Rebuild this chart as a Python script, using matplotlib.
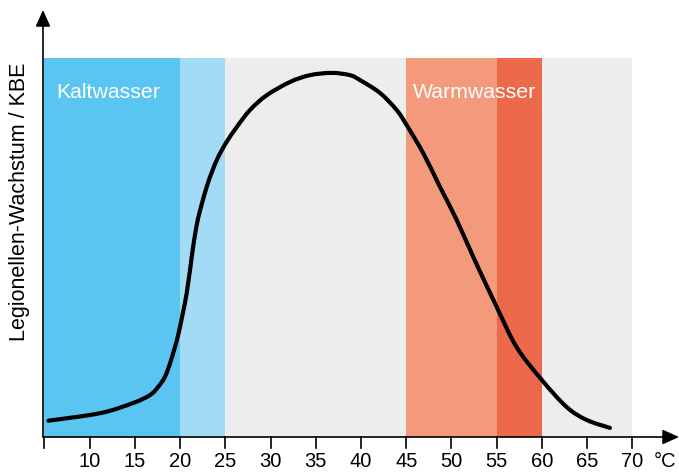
import matplotlib
matplotlib.use("Agg")
import matplotlib.pyplot as plt
from matplotlib.path import Path
from matplotlib.patches import PathPatch

plt.rcParams['font.family'] = ['Liberation Sans', 'DejaVu Sans']

# Temperature zones (°C) and colours
band_edges = [5, 20, 25, 45, 55, 60, 70]
band_colors = ["#5BC5F2", "#A3DAF6", "#EDEDED", "#F29A7B", "#EC694C", "#EDEDED"]

# Growth curve (relative units, 0..100)
temp = [5.45, 11.2, 14.84, 16.69, 17.60, 18.34, 18.90, 19.45, 19.92, 20.74,
        21.35, 21.85, 22.35, 22.95, 23.50, 24.23, 25.16, 26.27, 27.73, 29.58,
        32.15, 34.36, 36.76, 38.78, 39.89, 42.1, 43.94, 45.05, 46.88, 48.73,
        50.57, 52.41, 55.0, 57.2, 60.0, 62.73, 64.94, 67.51]
growth = [4.3, 6.3, 9.0, 11.08, 13.27, 15.91, 19.45, 23.83, 28.23, 38.0,
          48.5, 56.0, 61.0, 66.0, 69.8, 73.96, 77.92, 81.8, 86.3, 90.2,
          93.7, 95.5, 96.1, 95.5, 94.2, 90.8, 86.3, 82.3, 74.9, 66.0,
          57.3, 47.5, 34.3, 23.7, 15.0, 7.9, 4.5, 2.4]

tick_values = [10, 15, 20, 25, 30, 35, 40, 45, 50, 55, 60, 65, 70]

W, H = 679, 474
fig = plt.figure(figsize=(W / 100, H / 100), dpi=100)
ax = fig.add_axes([43 / W, (H - 437) / H, (679 - 43) / W, (437 - 10) / H])
ax.set_xlim(4.86, 75.14)
ax.set_ylim(0, 112.7)
for s in ax.spines.values():
    s.set_visible(False)
ax.set_xticks([])
ax.set_yticks([])
ax.patch.set_alpha(0)

for i, c in enumerate(band_colors):
    ax.axvspan(band_edges[i], band_edges[i + 1], ymin=0, ymax=100 / 112.7,
               color=c, lw=0, zorder=1)

# smooth curve through the points (Catmull-Rom rendered as cubic Bezier)
pts = list(zip(temp, growth))
verts = [pts[0]]
codes = [Path.MOVETO]
n = len(pts)
for i in range(n - 1):
    p0 = pts[i - 1] if i > 0 else pts[i]
    p1 = pts[i]
    p2 = pts[i + 1]
    p3 = pts[i + 2] if i + 2 < n else pts[i + 1]
    c1 = (p1[0] + (p2[0] - p0[0]) / 6, p1[1] + (p2[1] - p0[1]) / 6)
    c2 = (p2[0] - (p3[0] - p1[0]) / 6, p2[1] - (p3[1] - p1[1]) / 6)
    verts += [c1, c2, p2]
    codes += [Path.CURVE4] * 3
ax.add_patch(PathPatch(Path(verts, codes), facecolor="none", edgecolor="black",
                       lw=3.0, capstyle="round", joinstyle="round", zorder=3))

# axes with arrows
ax.annotate("", xy=(75.14, 0), xytext=(4.86, 0),
            arrowprops=dict(arrowstyle="-|>,head_length=1.0,head_width=0.45",
                            color="black", lw=1.2, shrinkA=0, shrinkB=0),
            annotation_clip=False, zorder=5)
ax.annotate("", xy=(4.86, 112.7), xytext=(4.86, 0),
            arrowprops=dict(arrowstyle="-|>,head_length=1.0,head_width=0.45",
                            color="black", lw=1.2, shrinkA=0, shrinkB=0),
            annotation_clip=False, zorder=5)

# tick marks and labels
tick_len = 11 / 3.79
for t in [5] + tick_values:
    ax.plot([t, t], [0, -tick_len], color="black", lw=1.2, clip_on=False, zorder=5)
for t in tick_values:
    ax.text(t, -6.5, str(t), ha="center", va="center", fontsize=14.5, clip_on=False)
ax.text(73.6, -6.5, "°C", ha="center", va="center", fontsize=14.5, clip_on=False)

ax.text(2.26, 62.1, "Legionellen-Wachstum / KBE", rotation=90, ha="center",
        va="center", fontsize=15.5, clip_on=False)

ax.text(6.3, 91, "Kaltwasser", color="white", ha="left", va="center", fontsize=15.3, zorder=4)
ax.text(52.6, 91, "Warmwasser", color="white", ha="center", va="center", fontsize=15.3, zorder=4)

fig.savefig("out.png", dpi=100)
